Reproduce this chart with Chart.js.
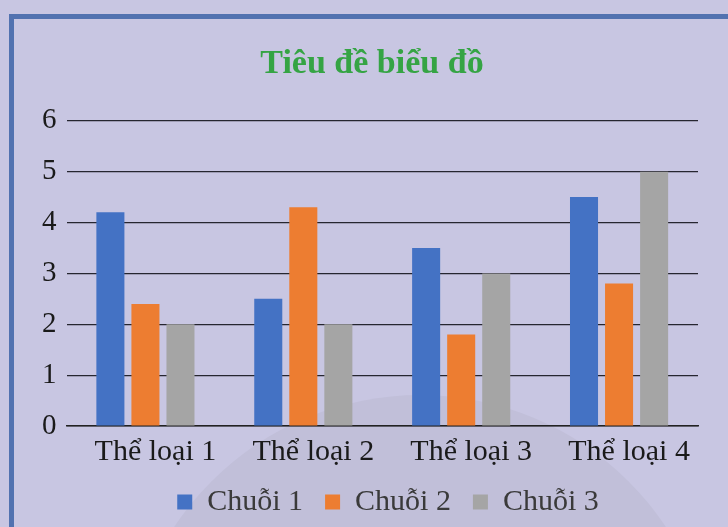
<!DOCTYPE html>
<html>
<head>
<meta charset="utf-8">
<script src="https://cdn.jsdelivr.net/npm/chart.js@4"></script>
<style>
    html, body { margin: 0; padding: 0; background: #c8c6e2; }
    #wrap { position: relative; width: 728px; height: 527px; overflow: hidden; }
    #frame {
        position: absolute; left: 9px; top: 14px; width: 740px; height: 540px;
        border-top: 5px solid #5272b0; border-left: 5px solid #5272b0;
    }
    #disc {
        position: absolute; left: 125px; top: 395px; width: 590px; height: 590px;
        border-radius: 50%; background: #c1bfd9;
    }
    canvas { position: absolute; left: 0; top: 0; }
</style>
</head>
<body>
<div id="wrap">
    <div id="disc"></div>
    <div id="frame"></div>
    <canvas id="chart" width="728" height="527"></canvas>
</div>
<script>
// --- Data ---
const categories = ['Thể loại 1', 'Thể loại 2', 'Thể loại 3', 'Thể loại 4'];
const series1 = [4.2, 2.5, 3.5, 4.5];
const series2 = [2.4, 4.3, 1.8, 2.8];
const series3 = [2, 2, 3, 5];
const seriesNames = ['Chuỗi 1', 'Chuỗi 2', 'Chuỗi 3'];
const chartTitle = 'Tiêu đề biểu đồ';

const serif = '"Liberation Serif", "DejaVu Serif", serif';

// nudge the title and legend a little to the right, like the original
const blockShift = {
    id: 'blockShift',
    afterLayout(chart) {
        chart.legend.left += 23;
        chart.legend.right += 23;
        chart.titleBlock.left += 7;
        chart.titleBlock.right += 7;
    }
};

new Chart(document.getElementById('chart'), {
    type: 'bar',
    data: {
        labels: categories,
        datasets: [
            { label: seriesNames[0], data: series1, backgroundColor: '#4472c4' },
            { label: seriesNames[1], data: series2, backgroundColor: '#ed7d31' },
            { label: seriesNames[2], data: series3, backgroundColor: '#a5a5a5' }
        ]
    },
    options: {
        responsive: false,
        animation: false,
        layout: { padding: { top: 30, left: 32, right: 30, bottom: 0 } },
        datasets: { bar: { categoryPercentage: 0.666, barPercentage: 0.8 } },
        scales: {
            x: {
                grid: { display: false, drawTicks: false, tickLength: 0 },
                border: { color: '#222', width: 1.5 },
                ticks: {
                    color: '#1a1a1a', font: { family: serif, size: 30, lineHeight: 1 },
                    padding: 11, labelOffset: 10
                },
                afterFit: scale => { scale.height = 39; }
            },
            y: {
                min: 0, max: 6,
                ticks: { stepSize: 1, color: '#1a1a1a', font: { family: serif, size: 29 }, padding: 10 },
                grid: { color: '#262630', lineWidth: 1.2, drawTicks: false },
                border: { display: false }
            }
        },
        plugins: {
            title: {
                display: true, text: chartTitle, color: '#35a444',
                font: { family: serif, size: 34, weight: 'bold', lineHeight: 1.2 },
                padding: { top: 14, bottom: 36 }
            },
            legend: {
                position: 'bottom',
                labels: {
                    color: '#3a3a3a', font: { family: serif, size: 30, lineHeight: 1 },
                    boxWidth: 15, boxHeight: 15, padding: 22
                }
            },
            tooltip: { enabled: false }
        }
    },
    plugins: [blockShift]
});
</script>
</body>
</html>
